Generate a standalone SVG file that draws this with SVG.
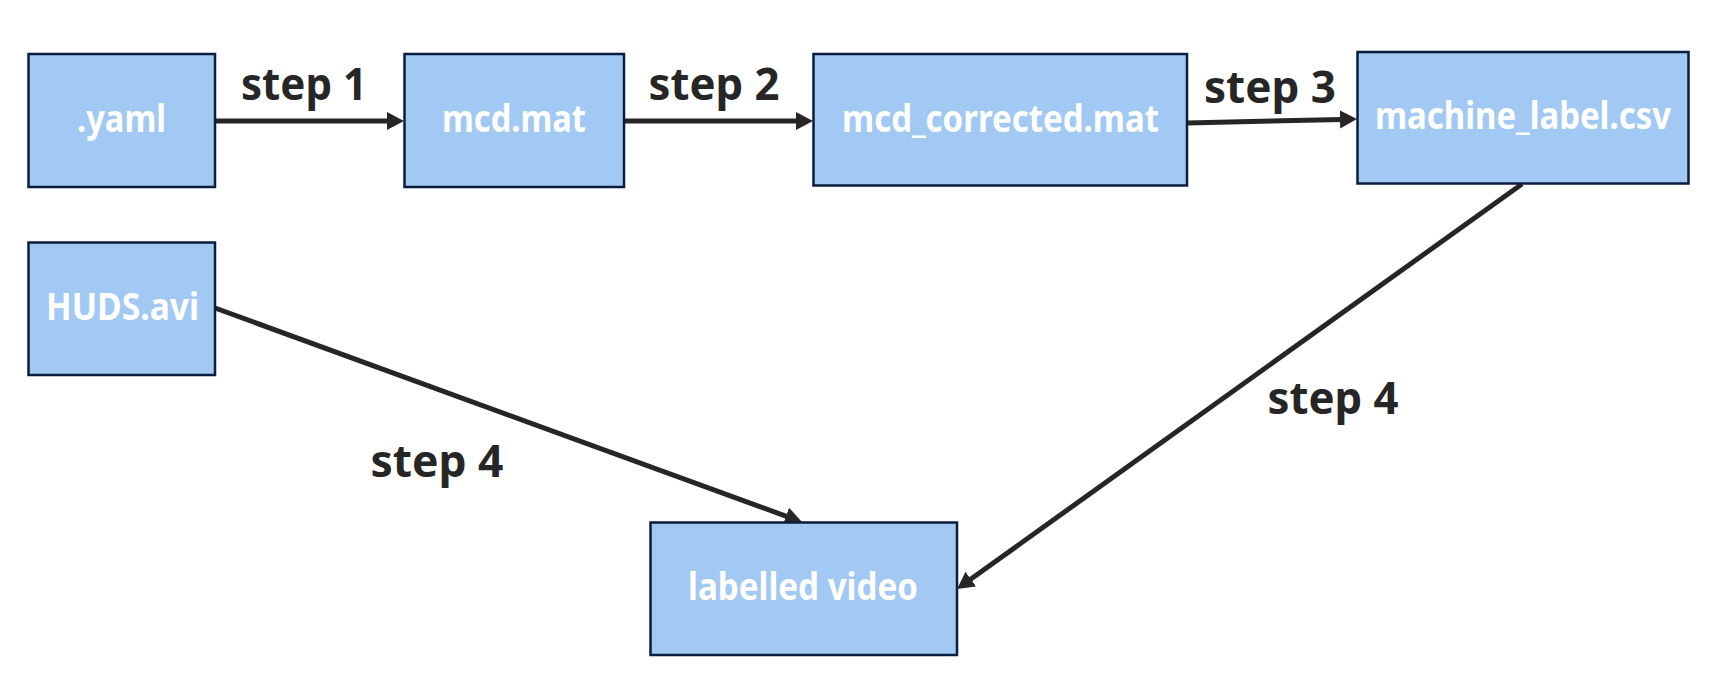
<svg xmlns="http://www.w3.org/2000/svg" width="1711" height="693" viewBox="0 0 1711 693">
<style>
.box{fill:#A1C9F4;stroke:#0B1D3F;stroke-width:2.5}
.lbl{font-family:"Noto Sans","DejaVu Sans",sans-serif;font-weight:bold;font-size:37px;fill:#FFFFFF;text-anchor:middle}
.step{font-family:"Noto Sans","DejaVu Sans",sans-serif;font-weight:bold;font-size:45px;fill:#262626;text-anchor:middle}
.edge{fill:none;stroke:#262626;stroke-width:5}
</style>
<defs>
<marker id="ah" markerUnits="userSpaceOnUse" markerWidth="20" markerHeight="20" refX="2" refY="9" orient="auto">
<path d="M0,0 L17,9 L0,18 z" fill="#262626"/>
</marker>
</defs>
<rect width="1711" height="693" fill="#FFFFFF"/>
<g id="connectors">
<path class="edge" d="M215,121 L389,121" marker-end="url(#ah)"/>
<path class="edge" d="M624,121 L798,121" marker-end="url(#ah)"/>
<path class="edge" d="M1187,123 L1342,119.4" marker-end="url(#ah)"/>
<path class="edge" d="M215,308 L787.9,516.9" marker-end="url(#ah)"/>
<path class="edge" d="M1522,184 L969.2,580.3" marker-end="url(#ah)"/>
<text class="step" x="304" y="99.5" textLength="126" lengthAdjust="spacingAndGlyphs">step 1</text>
<text class="step" x="714" y="100" textLength="131" lengthAdjust="spacingAndGlyphs">step 2</text>
<text class="step" x="1270" y="103" textLength="132" lengthAdjust="spacingAndGlyphs">step 3</text>
<text class="step" x="437" y="477" textLength="133" lengthAdjust="spacingAndGlyphs" font-size="46">step 4</text>
<text class="step" x="1333" y="414" textLength="131" lengthAdjust="spacingAndGlyphs" font-size="46">step 4</text>
</g>
<g id="yaml"><rect class="box" x="28.5" y="54" width="186.5" height="133"/><text class="lbl" x="121.5" y="132" textLength="89" lengthAdjust="spacingAndGlyphs">.yaml</text></g>
<g id="mcd"><rect class="box" x="404.5" y="54" width="219.5" height="133"/><text class="lbl" x="514" y="132" textLength="144" lengthAdjust="spacingAndGlyphs">mcd.mat</text></g>
<g id="mcd_corrected"><rect class="box" x="813.5" y="54" width="373.5" height="131.5"/><text class="lbl" x="1000.5" y="132" textLength="317" lengthAdjust="spacingAndGlyphs">mcd_corrected.mat</text></g>
<g id="machine_label"><rect class="box" x="1357.5" y="52" width="331" height="131.5"/><text class="lbl" x="1523" y="129" textLength="296" lengthAdjust="spacingAndGlyphs">machine_label.csv</text></g>
<g id="huds"><rect class="box" x="28.5" y="242.5" width="186.5" height="132.5"/><text class="lbl" x="122.5" y="320" textLength="153" lengthAdjust="spacingAndGlyphs">HUDS.avi</text></g>
<g id="labelled"><rect class="box" x="650.5" y="522.5" width="306.5" height="132.5"/><text class="lbl" x="803" y="600" textLength="230" lengthAdjust="spacingAndGlyphs">labelled video</text></g>
</svg>
